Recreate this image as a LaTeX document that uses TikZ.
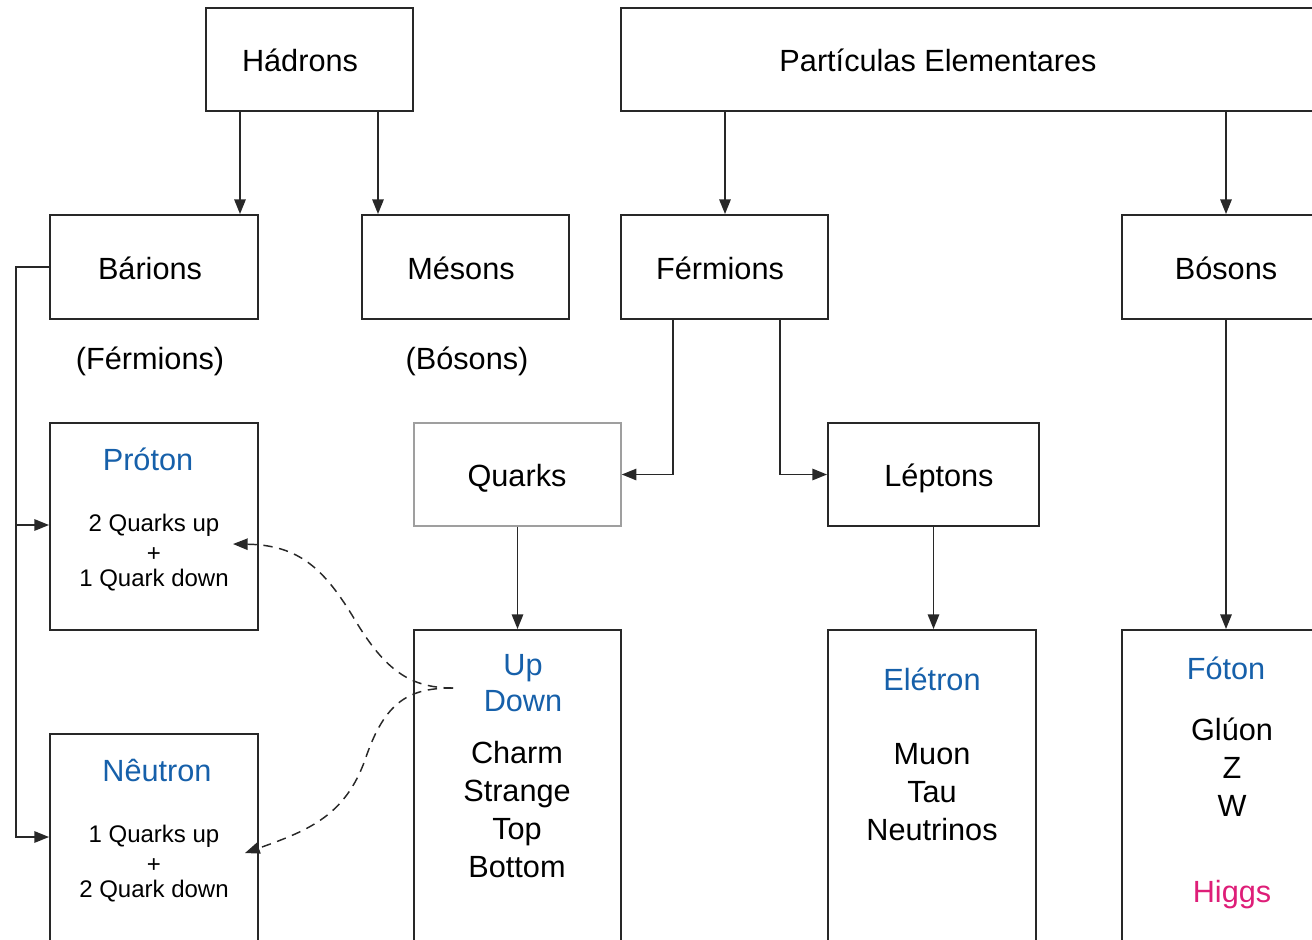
\documentclass[tikz,border=0pt]{standalone}
\usepackage{fontspec}
\setmainfont{Liberation Sans}
\usetikzlibrary{arrows.meta,fit}
\definecolor{tblue}{RGB}{22,96,170}
\definecolor{tpink}{RGB}{222,30,120}
\definecolor{bord}{RGB}{40,40,40}
\begin{document}
\begin{tikzpicture}[x=0.75pt,y=-0.75pt,
  box/.style={draw=bord,line width=1.4pt,inner sep=0pt},
  lbl/.style={inner sep=0pt,anchor=base,align=center,font=\fontsize{23}{28.5}\selectfont},
  small/.style={inner sep=0pt,anchor=base,font=\fontsize{18}{21}\selectfont},
  arr/.style={draw=bord,line width=1.4pt,-{Triangle[length=11pt,width=8.5pt]}},
  darr/.style={draw=bord,line width=1.1pt,dash pattern=on 7pt off 5pt,-{Triangle[length=11pt,width=8.5pt]}}]
\useasboundingbox (0,0) rectangle (1312,939);
\clip (0,0) rectangle (1312,939);
% boxes
\node[box,fit={(206,8)(413,111)}] (had) {};
\node[box,fit={(621,8)(1330,111)}] (part) {};
\node[box,fit={(50,215)(258,319)}] (bar) {};
\node[box,fit={(362,215)(569,319)}] (mes) {};
\node[box,fit={(621,215)(828,319)}] (fer) {};
\node[box,fit={(1122,215)(1330,319)}] (bos) {};
\node[box,fit={(50,423)(258,630)}] (pro) {};
\node[box,fit={(50,734)(258,960)}] (neu) {};
\node[box,draw=gray!75,line width=1.1pt,fit={(414,423)(621,526)}] (qua) {};
\node[box,fit={(828,423)(1039,526)}] (lep) {};
\node[box,fit={(414,630)(621,960)}] (upb) {};
\node[box,fit={(828,630)(1036,960)}] (ele) {};
\node[box,fit={(1122,630)(1330,960)}] (fot) {};
% texts
\node[lbl] (hadt) at (300,71) {Hádrons};
\node[lbl] (partt) at (938,71) {Partículas Elementares};
\node[lbl] (bart) at (150,279) {Bárions};
\node[lbl] (mest) at (461,279) {Mésons};
\node[lbl] (fert) at (720,279) {Férmions};
\node[lbl] (bost) at (1226,279) {Bósons};
\node[lbl] (ferp) at (150,369) {(Férmions)};
\node[lbl] (bosp) at (467,369) {(Bósons)};
\node[lbl] (quat) at (517,486) {Quarks};
\node[lbl] (lept) at (939,486) {Léptons};
\node[lbl,text=tblue] (prot) at (148,470) {Próton};
\node[small] (pro1) at (154,531) {2 Quarks up};
\node[small] (pro2) at (154,561) {+};
\node[small] (pro3) at (154,586) {1 Quark down};
\node[lbl,text=tblue] (neut) at (157,781) {Nêutron};
\node[small] (neu1) at (154,842) {1 Quarks up};
\node[small] (neu2) at (154,872) {+};
\node[small] (neu3) at (154,897) {2 Quark down};
\node[lbl,text=tblue,font=\fontsize{23}{27}\selectfont] (upt) at (523,711) {Up\\Down};
\node[lbl] (charm) at (517,877) {Charm\\Strange\\Top\\Bottom};
\node[lbl,text=tblue] (elet) at (932,690) {Elétron};
\node[lbl] (muon) at (932,840) {Muon\\Tau\\Neutrinos};
\node[lbl,text=tblue] (fott) at (1226,679) {Fóton};
\node[lbl] (gluon) at (1232,816) {Glúon\\Z\\W};
\node[lbl,text=tpink] (higgs) at (1232,902) {Higgs};
% connectors
\draw[arr] (had.south -| 240,0) -- (bar.north -| 240,0);
\draw[arr] (had.south -| 378,0) -- (mes.north -| 378,0);
\draw[arr] (part.south -| 725,0) -- (fer.north -| 725,0);
\draw[arr] (part.south -| 1226,0) -- (bos.north -| 1226,0);
\draw[arr] (bar.west) -- ++(-33,0) |- (pro.west |- 0,525);
\draw[arr] (bar.west) -- ++(-33,0) |- (neu.west |- 0,837);
\draw[arr] (fer.south -| 673,0) |- (qua.east);
\draw[arr] (fer.south -| 780,0) |- (lep.west);
\draw[arr] (qua.south) -- (upb.north);
\draw[arr] (lep.south) -- (lep.south |- ele.north);
\draw[arr] (bos.south) -- (fot.north);
% dashed curves
\coordinate (j) at (453,688);
\coordinate (pa) at (233,544);
\coordinate (na) at (245,853);
\draw[darr] (j) .. controls (410,688) and (385,670) .. (355,620) .. controls (325,570) and (300,545) .. (pa);
\draw[darr] (j) .. controls (410,688) and (385,700) .. (365,760) .. controls (345,815) and (310,830) .. (na);
\end{tikzpicture}
\end{document}
